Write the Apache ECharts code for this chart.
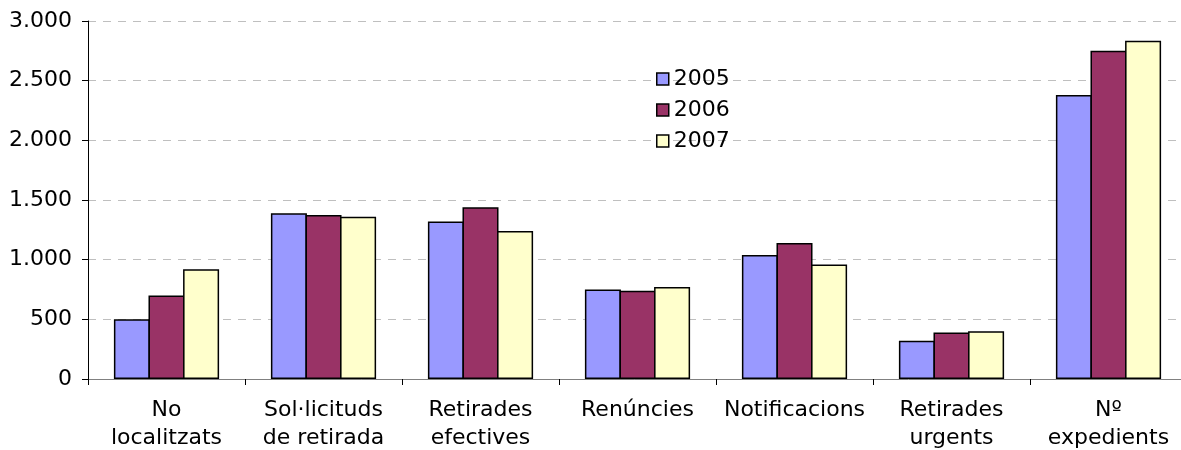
<!DOCTYPE html>
<html>
<head>
<meta charset="utf-8">
<script src="https://cdn.jsdelivr.net/npm/echarts@6/dist/echarts.min.js"></script>
<style>
  html, body { margin: 0; padding: 0; background: #fff; }
  #chart { width: 1181px; height: 450px; }
</style>
</head>
<body>
<div id="chart"></div>
<script>
const categories = [
  'No\nlocalitzats',
  'Sol·licituds\nde retirada',
  'Retirades\nefectives',
  'Renúncies',
  'Notificacions',
  'Retirades\nurgents',
  'Nº\nexpedients'
];
const years = ['2005', '2006', '2007'];
const values2005 = [500, 1390, 1320, 750, 1040, 320, 2380];
const values2006 = [700, 1375, 1440, 740, 1140, 390, 2750];
const values2007 = [920, 1360, 1240, 770, 960, 400, 2835];
const colors = ['#9999FF', '#993366', '#FFFFCC'];
const yTicks = { min: 0, max: 3000, interval: 500 };

// 3.000 style thousands separator
const fmt = (v) => String(v).replace(/\B(?=(\d{3})+(?!\d))/g, '.');

const chart = echarts.init(document.getElementById('chart'));
const font = 'DejaVu Sans, Verdana, sans-serif';

chart.setOption({
  animation: false,
  textStyle: { fontFamily: font },
  legend: {
    orient: 'vertical',
    left: 651,
    top: 63,
    icon: 'rect',
    itemWidth: 12,
    itemHeight: 12,
    itemGap: 9,
    itemStyle: { borderColor: '#000', borderWidth: 1.5 },
    textStyle: { fontSize: 22, color: '#000', fontFamily: font },
    data: years
  },
  grid: {
    left: 88, top: 21, width: 1099, height: 358,
    containLabel: false,
    outerBoundsMode: 'none'
  },
  xAxis: {
    type: 'category',
    data: categories,
    axisLine: { lineStyle: { color: '#808080', width: 1 } },
    axisTick: { show: true, length: 6, lineStyle: { color: '#000' } },
    axisLabel: {
      interval: 0,
      fontSize: 22,
      color: '#000',
      lineHeight: 28,
      margin: 17,
      fontFamily: font
    }
  },
  yAxis: {
    type: 'value',
    min: yTicks.min,
    max: yTicks.max,
    interval: yTicks.interval,
    axisLine: { show: true, lineStyle: { color: '#000', width: 1 } },
    axisTick: { show: true, length: 6, lineStyle: { color: '#000' } },
    splitLine: { lineStyle: { color: '#BFBFBF', type: [8, 7], width: 1 } },
    axisLabel: {
      fontSize: 22,
      color: '#000',
      margin: 16,
      fontFamily: font,
      formatter: fmt
    }
  },
  series: [values2005, values2006, values2007].map((d, i) => ({
    name: years[i],
    type: 'bar',
    data: d,
    barGap: '-4%',
    barCategoryGap: '33%',
    itemStyle: { color: colors[i], borderColor: '#000', borderWidth: 1.5 }
  }))
});
</script>
</body>
</html>
